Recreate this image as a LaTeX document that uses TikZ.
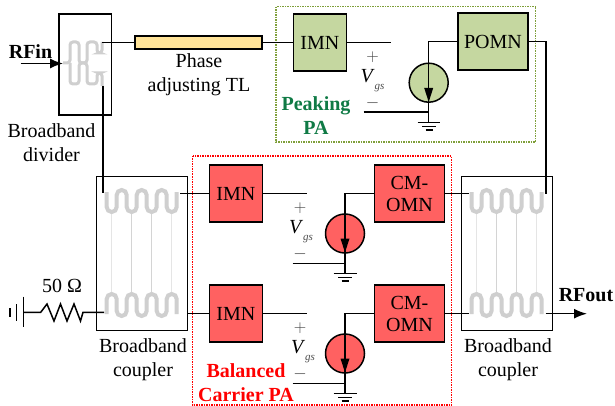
\documentclass[tikz,border=0pt]{standalone}
\usepackage{fontspec}
\setmainfont{Liberation Serif}
\usetikzlibrary{calc,arrows.meta}

\definecolor{greenfill}{HTML}{C5D7A0}
\definecolor{redfill}{HTML}{FF6161}
\definecolor{tlfill}{HTML}{FFE398}
\definecolor{greenbox}{HTML}{7F9F3A}
\definecolor{greentext}{HTML}{0F7A45}
\definecolor{meandercol}{HTML}{CFCFCF}

% meander lines of the couplers
\newcommand{\meanderdown}[2]{
	\draw[meander] (#1,#2) -- ++(0,20) -- ++(10,0) -- ++(0,-22) -- ++(10,0) -- ++(0,22) -- ++(10,0) -- ++(0,-22) -- ++(10,0) -- ++(0,22) -- ++(10,0) -- ++(0,-22) -- ++(10,0) -- ++(0,22) -- ++(10,0) -- ++(0,-20);
}
\newcommand{\meanderup}[2]{
	\draw[meander] (#1,#2) -- ++(0,-20) -- ++(10,0) -- ++(0,22) -- ++(10,0) -- ++(0,-22) -- ++(10,0) -- ++(0,22) -- ++(10,0) -- ++(0,-22) -- ++(10,0) -- ++(0,22) -- ++(10,0) -- ++(0,-22) -- ++(10,0) -- ++(0,20);
}
\newcommand{\vgslabel}{\textit{V}{\fontsize{11}{11}\selectfont\textcolor{black!70}{\raisebox{-7pt}{\textit{gs}}}}}

\begin{document}
\begin{tikzpicture}
		[   x=1pt,y=-1pt,
			every node/.style={font=\fontsize{20}{23}\selectfont},
			bnode/.style={draw=black,line width=1.5pt,fill=#1,inner sep=0pt,align=center},
			snode/.style={draw=black,line width=1.5pt,fill=#1,circle,minimum width=39pt,inner sep=0pt},
			cbox/.style={draw=black,line width=1.4pt,fill=white,inner sep=0pt,minimum height=#1},
			txt/.style={inner sep=0pt,align=center},
			wire/.style={draw=black,line width=1.5pt},
			gnd/.style={draw=black,line width=1.4pt},
			meander/.style={draw=meandercol,line width=4pt,rounded corners=5pt},
			rung/.style={draw=#1,line width=1pt},
			sarrow/.style={draw=black,line width=1.5pt,-{Latex[length=13pt,width=10pt]}},
		]
		\useasboundingbox (0,0) rectangle (615,406);
		
		%	dotted frames
		\draw[draw=greenbox,line width=1.5pt,densely dotted] (276,6.7) rectangle (535.7,142);
		\draw[draw=red,line width=1.5pt,densely dotted] (192.5,156) rectangle (451.7,405);
		
		%	divider and couplers
		\node[cbox=101pt,minimum width=52.5pt] (div) at (85.2,64.5) {};
		\node[cbox=153.5pt,minimum width=91pt] (cl) at (142.2,253.5) {};
		\node[cbox=153.5pt,minimum width=91pt] (cr) at (507,253.5) {};
		
		\draw[meander,line width=3pt,rounded corners=3pt] (63,63) -- (70,63) -- (70,42) -- (79,42) -- (79,63) -- (87,63) -- (87,42) -- (97,42) -- (97,53) -- (102,53) -- (102,42);
		\draw[meander,line width=3pt,rounded corners=3pt] (70,63) -- (70,84) -- (79,84) -- (79,63) -- (87,63) -- (87,84) -- (97,84) -- (97,73) -- (102,73) -- (102,86);
		
		\foreach \x/\c in {111.7/black!10,131.7/black!17,151.7/black!17,171.7/black!10}
		{
			\draw[rung=\c] (\x,212) -- (\x,292);
			\draw[rung=\c] (\x+365,212) -- (\x+365,292);
		}
		\meanderdown{106.7}{192}
		\meanderup{106.7}{314}
		\meanderdown{471.5}{192}
		\meanderup{471.5}{314}
		
		%	blocks
		\node[bnode=tlfill,line width=1.9pt,minimum width=127pt,minimum height=13pt] (tl) at (198.5,42.5) {};
		\node[bnode=greenfill,minimum width=53pt,minimum height=57pt] (imn-0) at (319.8,42.5) {IMN};
		\node[bnode=greenfill,minimum width=70pt,minimum height=57pt] (pomn) at (493,41.5) {POMN};
		\node[snode=greenfill] (s-0) at (428.7,82.7) {};
		
		\foreach \n/\y in {1/193.5,2/313.5}
		{
			\node[bnode=redfill,minimum width=53pt,minimum height=57pt] (imn-\n) at (235.8,\y) {IMN};
			\node[bnode=redfill,minimum width=70.4pt,minimum height=57pt] (omn-\n) at (409.5,\y) {CM-\\[-1pt]OMN};
			\node[snode=redfill] (s-\n) at (345,\y+40) {};
			\coordinate (g-\n) at (345,\y+80);
			\coordinate (in-\n) at (306.7,\y);
			\coordinate (m-\n) at (292.7,\y+70);
			\coordinate (d-\n) at (345,\y);
			\coordinate (j-\n) at (345,\y+70);
			\coordinate (t-\n) at (469,\y);
			% transistor
			\path[wire] (imn-\n) -- (in-\n);
			\path[wire] (omn-\n) -- (d-\n) -- (g-\n);
			\path[wire] (m-\n) -- (j-\n);
			\path[wire] (omn-\n) -- (t-\n);
			\draw[fill=black,draw=none] (345,\y+59) -- ++(-4.5,-14) -- ++(9,0) -- cycle;
			\draw[gnd] (333.5,\y+80) -- (356.5,\y+80);
			\draw[gnd] (338,\y+84) -- (352,\y+84);
			\draw[gnd] (341.5,\y+87.5) -- (348.5,\y+87.5);
		}
		
		%	peaking branch
		\coordinate (div-o) at (102.3,42.5);
		\coordinate (div-c) at (103,86);
		\coordinate (cl-a) at (103,193);
		\coordinate (cl-b) at (180,193.5);
		\coordinate (cl-c) at (187.7,313.5);
		\coordinate (in-0) at (390.7,42.5);
		\coordinate (d-0) at (428.7,41.5);
		\coordinate (g-0) at (428.7,122.5);
		\coordinate (m-0) at (363.5,112);
		\coordinate (j-0) at (428.7,112);
		\coordinate (o-a) at (546,41.5);
		\coordinate (o-b) at (546,194);
		
		\path[wire] (div-o) -- (tl);
		\path[wire] (tl) -- (imn-0);
		\path[wire] (imn-0) -- (in-0);
		\path[wire] (pomn) -- (d-0) -- (g-0);
		\path[wire] (m-0) -- (j-0);
		\path[wire] (pomn) -- (o-a) -- (o-b);
		\path[wire] (div-c) -- (cl-a);
		\path[wire] (cl-b) -- (imn-1);
		\path[wire] (cl-c) -- (imn-2);
		\draw[fill=black,draw=none] (428.7,102) -- ++(-4.5,-14) -- ++(9,0) -- cycle;
		\draw[gnd] (417.5,122.5) -- (440,122.5);
		\draw[gnd] (422,126.5) -- (436,126.5);
		\draw[gnd] (425.5,130) -- (432.5,130);
		
		%	ports
		\coordinate (rfin) at (20.7,63.5);
		\coordinate (rfin-e) at (63,63.5);
		\coordinate (rfout) at (545.7,313.7);
		\coordinate (rfout-e) at (587,313.7);
		\path[sarrow] (rfin) -- (rfin-e);
		\path[sarrow] (rfout) -- (rfout-e);
		
		%	termination
		\coordinate (r-l) at (23.3,312.3);
		\coordinate (r-r) at (104,312.3);
		\path[wire] (r-l) -- (40.7,312.3) -- (47,304) -- (54,321) -- (60.5,304) -- (67,321) -- (74,304) -- (80.5,321) -- (83,312.3) -- (r-r);
		\draw[gnd] (23.3,296.7) -- (23.3,327);
		\draw[gnd] (16.7,304) -- (16.7,320.7);
		\draw[gnd] (10,308) -- (10,316.5);
		
		%	labels
		\node[txt] (rfin-t) at (30.5,52) {\textbf{RFin}};
		\node[txt] (rfout-t) at (586,295) {\textbf{RFout}};
		\node[txt] (r-t) at (62,286) {50 Ω};
		\node[txt] (tl-t) at (199,75) {Phase\\[1pt]adjusting TL};
		\node[txt] (div-t) at (51.5,143) {Broadband\\[1pt]divider};
		\node[txt] (cl-t) at (143,360) {Broadband\\[1pt]coupler};
		\node[txt] (cr-t) at (508,360) {Broadband\\[1pt]coupler};
		\node[txt,text=greentext] (pk-t) at (316,116) {\textbf{Peaking}\\[1pt]\textbf{PA}};
		\node[txt,text=red] (bc-t) at (246,383) {\textbf{Balanced}\\[1pt]\textbf{Carrier PA}};
		
		\foreach \x/\y/\n/\d in {372.5/57/0/0,300/208/1/1,300/328/2/3}
		{
			\node[txt,text=black!75,font=\fontsize{17}{19}\selectfont] (plus-\n) at (\x,\y) {$+$};
			\node[txt] (vgs-\n) at (\x+\d,\y+24) {\vgslabel};
			\node[txt,text=black!75,font=\fontsize{17}{19}\selectfont] (minus-\n) at (\x,\y+46.5) {$-$};
		}
		\end{tikzpicture}
\end{document}
